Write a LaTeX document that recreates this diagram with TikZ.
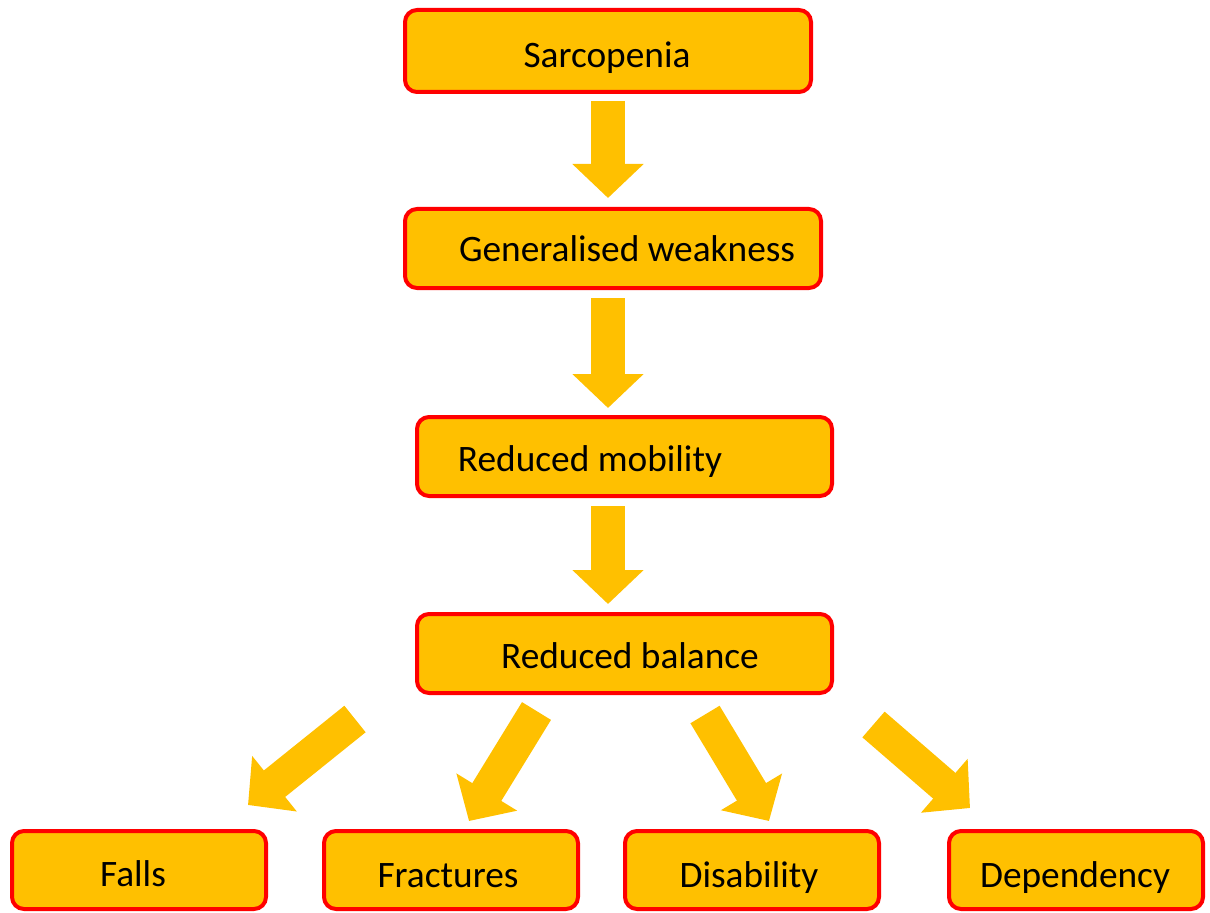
\documentclass[tikz,border=0pt]{standalone}
\usepackage{fontspec}
\setmainfont{Carlito}
\usetikzlibrary{arrows.meta}
\definecolor{boxfill}{HTML}{FFC000}
\definecolor{boxline}{HTML}{FF0000}
\begin{document}
\begin{tikzpicture}[x=0.75pt,y=-0.75pt,
  box/.style={draw=boxline,fill=boxfill,line width=3pt,rounded corners=9pt,inner sep=0pt},
  txt/.style={anchor=base,inner sep=0pt,font=\fontsize{28pt}{34pt}\selectfont},
  bigarrow/.style={draw=boxfill,line width=25.5pt,line cap=butt,
    -{Triangle[length=25.5pt,width=52pt]}}]
\useasboundingbox (0,0) rectangle (1210,913);
% boxes
\node[box,minimum width=304.5pt,minimum height=61.5pt] (b1) at (608,51) {};
\node[box,minimum width=312pt,minimum height=59.25pt] (b2) at (613,248.5) {};
\node[box,minimum width=311.25pt,minimum height=59.25pt] (b3) at (624.5,456.5) {};
\node[box,minimum width=311.25pt,minimum height=59.25pt] (b4) at (624.5,653.5) {};
\node[box,minimum width=190.5pt,minimum height=58.5pt] (c1) at (139,870) {};
\node[box,minimum width=190.5pt,minimum height=58.5pt] (c2) at (451,870) {};
\node[box,minimum width=190.5pt,minimum height=58.5pt] (c3) at (752,870) {};
\node[box,minimum width=190.5pt,minimum height=58.5pt] (c4) at (1076,870) {};
% texts
\node[txt] (t1) at (607,68) {Sarcopenia};
\node[txt] (t2) at (627,261) {Generalised weakness};
\node[txt] (t3) at (590,471) {Reduced mobility};
\node[txt] (t4) at (630,668) {Reduced balance};
\node[txt] (u1) at (133,886) {Falls};
\node[txt] (u2) at (448,887) {Fractures};
\node[txt] (u3) at (749,887) {Disability};
\node[txt] (u4) at (1075,887) {Dependency};
% vertical arrows
\coordinate (axis) at (608,0);
\draw[bigarrow,shorten <=5.25pt,shorten >=6.75pt] (b1.south -| axis) -- (b2.north -| axis);
\draw[bigarrow,shorten <=6pt,shorten >=5.25pt] (b2.south -| axis) -- (b3.north -| axis);
\draw[bigarrow,shorten <=6pt,shorten >=6pt] (b3.south -| axis) -- (b4.north -| axis);
% diagonal arrows
\coordinate (sA) at (355,719);
\coordinate (eA) at (248,805);
\coordinate (sB) at (536.5,711);
\coordinate (eB) at (469,821);
\coordinate (sC) at (705,714.5);
\coordinate (eC) at (769,821);
\coordinate (sD) at (873.5,724.5);
\coordinate (eD) at (970,808);
\draw[bigarrow] (sA) -- (eA);
\draw[bigarrow] (sB) -- (eB);
\draw[bigarrow] (sC) -- (eC);
\draw[bigarrow] (sD) -- (eD);
\end{tikzpicture}
\end{document}
